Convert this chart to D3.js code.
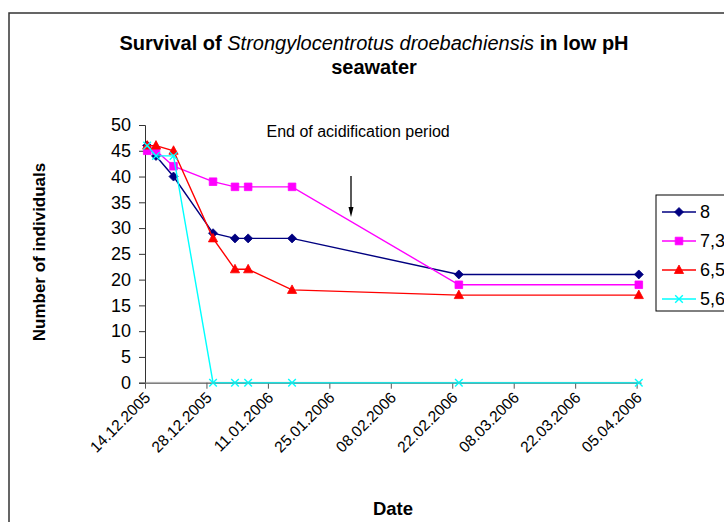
<!DOCTYPE html>
<html><head><meta charset="utf-8">
<script src="https://cdn.jsdelivr.net/npm/d3@7/dist/d3.min.js"></script>
<style>body{margin:0;background:#fff;} svg{display:block;font-family:"Liberation Sans",Arial,sans-serif;}</style>
</head><body>
<svg id="c" width="724" height="522"></svg>
<script>
const dates = ["14.12.2005","16.12.2005","20.12.2005","29.12.2005","03.01.2006","06.01.2006","16.01.2006","23.02.2006","05.04.2006"];
const seriesNames = ["8","7,3","6,5","5,6"];
const ph8  = [46,44,40,29,28,28,28,21,21];
const ph73 = [45,45,42,39,38,38,38,19,19];
const ph65 = [46,46,45,28,22,22,18,17,17];
const ph56 = [46,44,44,0,0,0,0,0,0];
const xTickLabels = ["14.12.2005","28.12.2005","11.01.2006","25.01.2006","08.02.2006","22.02.2006","08.03.2006","22.03.2006","05.04.2006"];
const yTicks = [0,5,10,15,20,25,30,35,40,45,50];

const parse = d3.utcParse("%d.%m.%Y");
const fmt = d3.utcFormat("%d.%m.%Y");
const svg = d3.select("#c");

// frame
svg.append("rect").attr("x",9).attr("y",13).attr("width",800).attr("height",600)
  .attr("fill","#fff").attr("stroke","#333").attr("stroke-width",1.5);

const x = d3.scaleUtc().domain([parse("14.12.2005"), d3.utcDay.offset(parse("05.04.2006"),1)]).range([145,641]);
const y = d3.scaleLinear().domain([0,50]).range([382.7,125]);
const px = d => x(new Date(+parse(d) + 12*3600e3));

// title
const t = svg.append("text").attr("x",374).attr("y",50).attr("text-anchor","middle")
  .attr("font-size",20).attr("fill","#000");
t.append("tspan").attr("font-weight","bold").text("Survival of ");
t.append("tspan").attr("font-style","italic").text("Strongylocentrotus droebachiensis");
t.append("tspan").attr("font-weight","bold").text(" in low pH");
svg.append("text").attr("x",374).attr("y",74).attr("text-anchor","middle")
  .attr("font-size",20).attr("font-weight","bold").text("seawater");

// y axis
const ya = svg.append("g").attr("transform","translate(145,0)")
  .call(d3.axisLeft(y).tickValues(yTicks).tickSize(6).tickPadding(8).tickFormat(d3.format("d")));
ya.select(".domain").attr("stroke","#333");
ya.selectAll(".tick line").attr("stroke","#333");
ya.selectAll("text").attr("font-size",18).attr("fill","#000").attr("font-family","Liberation Sans, Arial, sans-serif");

// x axis
const xa = svg.append("g").attr("transform","translate(0,382.7)")
  .call(d3.axisBottom(x).tickValues(xTickLabels.map(parse)).tickSize(6).tickSizeOuter(0).tickFormat(fmt));
xa.select(".domain").attr("stroke","#808080").attr("stroke-width",1.5);
xa.selectAll(".tick line").attr("stroke","#555");
xa.selectAll("text").attr("font-size",15.5).attr("fill","#000").attr("font-family","Liberation Sans, Arial, sans-serif")
  .attr("text-anchor","end").attr("dy","0.35em")
  .attr("transform","translate(2,12) rotate(-45)").attr("y",0).attr("x",0);

// axis titles
svg.append("text").attr("transform","translate(45,252) rotate(-90)").attr("text-anchor","middle")
  .attr("font-size",17).attr("font-weight","bold").text("Number of individuals");
svg.append("text").attr("x",393).attr("y",515).attr("text-anchor","middle")
  .attr("font-size",18.5).attr("font-weight","bold").text("Date");

// annotation
svg.append("text").attr("x",266.5).attr("y",136.5).attr("font-size",16).text("End of acidification period");
svg.append("line").attr("x1",351).attr("x2",351).attr("y1",176).attr("y2",212).attr("stroke","#000").attr("stroke-width",1.3);
svg.append("path").attr("d","M348.5,207 L353.5,207 L351,217 Z").attr("fill","#000");

// series
const series = [
  {name:seriesNames[0], vals:ph8,  color:"#000080", marker:"diamond"},
  {name:seriesNames[1], vals:ph73, color:"#FF00FF", marker:"square"},
  {name:seriesNames[2], vals:ph65, color:"#FF0000", marker:"triangle"},
  {name:seriesNames[3], vals:ph56, color:"#00FFFF", marker:"x"}
];
const markerPath = (m) => {
  if (m==="diamond") return "M0,-4.5L4.5,0L0,4.5L-4.5,0Z";
  if (m==="square") return "M-3.8,-3.8H3.8V3.8H-3.8Z";
  if (m==="triangle") return "M0,-5L4.6,3.5H-4.6Z";
  return "M-3.8,-3.8L3.8,3.8M3.8,-3.8L-3.8,3.8";
};
const line = d3.line().x((d,i)=>px(dates[i])).y(d=>y(d));
series.forEach(s=>{
  svg.append("path").attr("d",line(s.vals)).attr("fill","none").attr("stroke",s.color).attr("stroke-width",1.4);
  svg.append("g").selectAll("path").data(s.vals).join("path")
    .attr("transform",(d,i)=>`translate(${px(dates[i])},${y(d)})`)
    .attr("d",markerPath(s.marker))
    .attr("fill",s.marker==="x"?"none":s.color)
    .attr("stroke",s.color).attr("stroke-width",s.marker==="x"?1.4:0.8);
});
// zero line overlay (axis blended)
svg.append("line").attr("x1",x.range()[0]).attr("x2",x.range()[1]).attr("y1",y(0)).attr("y2",y(0))
  .attr("stroke","#808080").attr("stroke-width",2).attr("stroke-opacity",0.25);

// legend
const lg = svg.append("g");
lg.append("rect").attr("x",656).attr("y",195).attr("width",120).attr("height",116)
  .attr("fill","#fff").attr("stroke","#000").attr("stroke-width",1);
series.forEach((s,i)=>{
  const cy = 212 + i*29;
  lg.append("line").attr("x1",662).attr("x2",696).attr("y1",cy).attr("y2",cy).attr("stroke",s.color).attr("stroke-width",1.4);
  lg.append("path").attr("transform",`translate(679,${cy})`).attr("d",markerPath(s.marker))
    .attr("fill",s.marker==="x"?"none":s.color).attr("stroke",s.color).attr("stroke-width",s.marker==="x"?1.4:0.8);
  lg.append("text").attr("x",700).attr("y",cy).attr("dy","0.36em").attr("font-size",18).text(s.name);
});
</script>
</body></html>
